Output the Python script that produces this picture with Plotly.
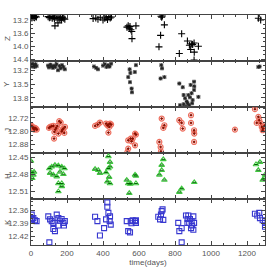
import plotly.graph_objects as go
from plotly.subplots import make_subplots

# ---------------- data ----------------
z_t = [2, 5, 8, 12, 16, 20, 25, 30,
       95, 102, 110, 118, 124, 130, 133, 138, 145, 150, 155, 160, 165, 170, 175, 182, 188,
       345, 360, 372, 385, 400, 410, 418, 425, 432, 440, 447,
       533, 540, 546, 550, 555, 560, 561, 583,
       722, 726, 730, 741, 720, 711,
       824, 837, 869, 880, 887, 893, 898, 906, 907, 930, 906,
       1263, 1276]
z_mag = [13.10, 13.14, 13.08, 13.12, 13.10, 13.13, 13.09, 13.11,
         13.10, 13.13, 13.12, 13.15, 13.10, 13.16, 13.38, 13.12, 13.14, 13.29, 13.11, 13.17, 13.13, 13.20, 13.12, 13.15, 13.18,
         13.16, 13.14, 13.18, 13.12, 13.20, 13.15, 13.12, 13.19, 13.10, 13.14, 13.11,
         13.42, 13.38, 13.45, 13.40, 13.50, 13.55, 13.77, 13.38,
         13.09, 13.12, 13.08, 13.35, 13.67, 14.02,
         14.22, 13.62, 13.84, 13.97, 14.10, 13.93, 13.95, 13.90, 14.18, 14.00, 14.42,
         13.15, 13.20]

y_t = [2, 6, 10, 15, 20, 25, 31,
       95, 100, 108, 115, 122, 128, 135, 142, 150, 158, 165, 172, 180, 188,
       350, 362, 372, 400, 410, 420, 428, 436, 445,
       540, 548, 550, 552, 559, 561, 577, 583,
       720, 724, 728, 741,
       824, 843, 887, 906, 907, 906, 892, 874, 856, 848, 883, 930, 898, 828, 879, 848, 865, 870, 895, 860,
       1263, 1270]
y_mag = [13.08, 13.12, 13.06, 13.10, 13.13, 13.07, 13.11,
         13.10, 13.14, 13.08, 13.12, 13.15, 13.10, 13.13, 13.07, 13.20, 13.11, 13.16, 13.09, 13.13, 13.18,
         13.12, 13.15, 13.18, 13.10, 13.07, 13.13, 13.09, 13.12, 13.06,
         13.35, 13.18, 13.46, 13.26, 13.60, 13.68, 13.24, 13.09,
         13.38, 13.09, 13.16, 13.35,
         13.49, 13.57, 13.52, 13.45, 13.55, 13.63, 13.70, 13.74, 13.81, 13.74, 13.79, 13.78, 13.85, 13.96, 13.96, 13.94, 13.88, 13.92, 13.92, 13.99,
         13.13, 13.12]

j_t = [4, 10, 13, 18, 22, 28, 32,
       100, 106, 115, 124, 128, 130, 135, 140, 146, 152, 157, 165, 171, 175, 180, 189, 185,
       356, 371, 383, 417, 425, 430, 435, 439, 445, 430,
       535, 540, 540, 554, 559, 565, 578, 578, 583,
       713, 720, 722, 726, 735, 741,
       824, 837, 843, 889, 889, 906, 907, 906,
       1133,
       1244, 1254, 1263, 1268, 1276, 1282, 1287, 1290, 1298]
j_mag = [12.768, 12.775, 12.784, 12.790, 12.780, 12.784, 12.790,
         12.780, 12.774, 12.770, 12.768, 12.844, 12.804, 12.790, 12.780, 12.768, 12.814, 12.740, 12.748, 12.800, 12.790, 12.784, 12.774, 12.810,
         12.768, 12.760, 12.748, 12.754, 12.765, 12.760, 12.774, 12.754, 12.760, 12.808,
         12.925, 12.854, 12.904, 12.844, 12.860, 12.844, 12.814, 12.884, 12.820,
         12.864, 12.894, 12.920, 12.724, 12.780, 12.764,
         12.734, 12.750, 12.784, 12.704, 12.750, 12.794, 12.814, 12.864,
         12.790,
         12.668, 12.750, 12.714, 12.734, 12.752, 12.774, 12.794, 12.784, 12.765]

h_t = [0, 4, 7, 13, 17,
       102, 106, 115, 124, 133, 143, 152, 152, 152, 161, 171, 171, 171, 180, 186,
       356, 374, 383, 417, 424, 430, 430, 439, 439, 439, 434,
       532, 540, 546, 550, 554, 578, 583, 583,
       713, 726, 726, 735, 741,
       824, 837, 907,
       1250, 1263, 1272, 1287, 1295, 1300]
h_mag = [12.457, 12.477, 12.487, 12.481, 12.476,
         12.470, 12.478, 12.467, 12.481, 12.464, 12.484, 12.465, 12.496, 12.510, 12.476, 12.467, 12.496, 12.501, 12.480, 12.470,
         12.471, 12.473, 12.478, 12.477, 12.493, 12.470, 12.449, 12.459, 12.467, 12.496, 12.485,
         12.490, 12.496, 12.513, 12.497, 12.496, 12.481, 12.483, 12.496,
         12.481, 12.464, 12.473, 12.454, 12.490,
         12.511, 12.505, 12.494,
         12.463, 12.473, 12.459, 12.490, 12.487, 12.481]

k_t = [4, 6, 13, 4, 22, 31,
       96, 102, 106, 115, 124, 124, 133, 143, 152, 152, 161, 170, 180, 183, 188,
       356, 369, 383, 406, 417, 424, 424, 430, 439, 437, 443,
       532, 540, 550, 554, 558, 565, 578, 583, 583,
       707, 717, 722, 726, 731, 735,
       818, 824, 837, 837, 861, 869, 874, 879, 883, 889, 892, 902, 906, 902, 870, 895,
       1244, 1257, 1268, 1272, 1287, 1300, 1300]
k_mag = [12.370, 12.380, 12.378, 12.383, 12.383, 12.385,
         12.374, 12.434, 12.381, 12.385, 12.389, 12.403, 12.408, 12.370, 12.378, 12.395, 12.384, 12.380, 12.389, 12.395, 12.385,
         12.375, 12.385, 12.418, 12.401, 12.381, 12.342, 12.352, 12.366, 12.374, 12.385, 12.393,
         12.385, 12.408, 12.411, 12.385, 12.390, 12.383, 12.385, 12.383, 12.389,
         12.375, 12.381, 12.370, 12.362, 12.358, 12.382,
         12.389, 12.408, 12.401, 12.434, 12.372, 12.389, 12.372, 12.389, 12.380, 12.401, 12.385, 12.374, 12.389, 12.405, 12.380, 12.395,
         12.368, 12.372, 12.366, 12.378, 12.383, 12.389, 12.398]

band_names = ["Z", "Y", "J", "H", "K"]
y_ranges = [[14.45, 13.05], [14.0, 13.0], [12.93, 12.655], [12.523, 12.443], [12.44, 12.334]]
y_ticks = [[13.2, 13.6, 14.0, 14.4], [13.2, 13.5, 13.8], [12.72, 12.80, 12.88],
           [12.45, 12.48, 12.51], [12.36, 12.39, 12.42]]
y_ticktext = [["13.2", "13.6", "14.0", "14.4"], ["13.2", "13.5", "13.8"],
              ["12.72", "12.80", "12.88"], ["12.45", "12.48", "12.51"],
              ["12.36", "12.39", "12.42"]]
x_ticks = [0, 200, 400, 600, 800, 1000, 1200]

# ---------------- figure ----------------
fig = make_subplots(rows=5, cols=1, shared_xaxes=True, vertical_spacing=0)

# Z: black crosses
fig.add_trace(go.Scatter(x=z_t, y=z_mag, mode="markers",
                         marker=dict(symbol="cross-thin", size=5, color="black",
                                     line=dict(color="black", width=1.1))),
              row=1, col=1)
# Y: grey squares with dark asterisk
fig.add_trace(go.Scatter(x=y_t, y=y_mag, mode="markers",
                         marker=dict(symbol="square", size=4, color="#a0a0a0", line=dict(width=0))),
              row=2, col=1)
fig.add_trace(go.Scatter(x=y_t, y=y_mag, mode="markers",
                         marker=dict(symbol="asterisk-open", size=3, color="#222222",
                                     line=dict(color="#222222", width=1))),
              row=2, col=1)
# J: red open circles with dark red centre
fig.add_trace(go.Scatter(x=j_t, y=j_mag, mode="markers",
                         marker=dict(symbol="circle-open", size=5, color="#ee7060",
                                     line=dict(color="#ee7060", width=1.2))),
              row=3, col=1)
fig.add_trace(go.Scatter(x=j_t, y=j_mag, mode="markers",
                         marker=dict(symbol="diamond", size=2.5, color="#8b1000", line=dict(width=0))),
              row=3, col=1)
# H: green triangles
fig.add_trace(go.Scatter(x=h_t, y=h_mag, mode="markers",
                         marker=dict(symbol="triangle-up-open", size=5, color="#40c840",
                                     line=dict(color="#40c840", width=1.1))),
              row=4, col=1)
fig.add_trace(go.Scatter(x=h_t, y=h_mag, mode="markers",
                         marker=dict(symbol="line-ew-open", size=2.5, color="#006000",
                                     line=dict(color="#006000", width=1))),
              row=4, col=1)
# K: blue open squares
fig.add_trace(go.Scatter(x=k_t, y=k_mag, mode="markers",
                         marker=dict(symbol="square-open", size=5, color="#3838d0",
                                     line=dict(color="#3838d0", width=1.1))),
              row=5, col=1)

tick_font = dict(family="Liberation Sans", size=8, color="#555555")

for i in range(5):
    r = i + 1
    major = y_ticks[i][1] - y_ticks[i][0]
    fig.update_yaxes(row=r, col=1, range=y_ranges[i], tickvals=y_ticks[i], ticktext=y_ticktext[i],
                     automargin=False,
                     ticks="inside", ticklen=4, tickcolor="#444444", tickwidth=1,
                     showline=True, linecolor="#444444", linewidth=1, mirror="ticks",
                     showgrid=False, zeroline=False, tickfont=tick_font,
                     minor=dict(ticks="inside", ticklen=2, tickcolor="#444444",
                                dtick=major / 3, tick0=y_ticks[i][0]))
    fig.update_xaxes(row=r, col=1, range=[0, 1300], tickvals=x_ticks,
                     automargin=False,
                     ticks="inside", ticklen=4, tickcolor="#444444", tickwidth=1,
                     showline=True, linecolor="#444444", linewidth=1, mirror="ticks",
                     showgrid=False, zeroline=False, tickfont=tick_font,
                     showticklabels=(r == 5),
                     minor=dict(ticks="inside", ticklen=2, tickcolor="#444444", dtick=200 / 3, tick0=0))
    yref = "y domain" if r == 1 else f"y{r} domain"
    fig.add_annotation(text=band_names[i], xref="paper", yref=yref, x=-0.1026, y=0.5,
                       xanchor="center", yanchor="middle", textangle=-90, showarrow=False,
                       font=dict(family="Liberation Sans", size=8, color="#555555"))

fig.update_xaxes(row=5, col=1, title=dict(text="time(days)",
                                          font=dict(family="Liberation Sans", size=8, color="#555555"),
                                          standoff=2))

fig.update_layout(width=274, height=278, showlegend=False,
                  margin=dict(l=31, r=9, t=15, b=33),
                  paper_bgcolor="white", plot_bgcolor="white")

# remove the browser's default body margin so the figure sits at the page origin
fig.write_html("out.html", config={"displayModeBar": False},
               post_script="document.body.style.margin='0';document.body.style.overflow='hidden';")
